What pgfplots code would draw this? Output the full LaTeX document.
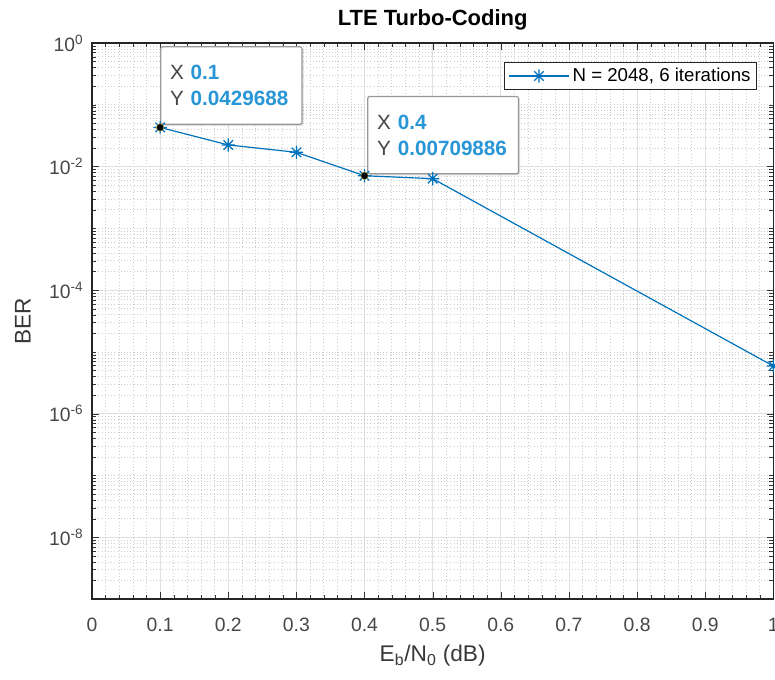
\documentclass[border=0pt]{standalone}
\usepackage{pgfplots}
\pgfplotsset{compat=1.18}
\usepackage{fontspec}
\setmainfont{Liberation Sans}
\usetikzlibrary{shadows}
\definecolor{mblue}{RGB}{0,114,189}
\definecolor{tipblue}{RGB}{40,150,215}
\definecolor{tipgray}{RGB}{70,70,70}
\pgfdeclareplotmark{mstar}{%
  \pgfpathmoveto{\pgfqpoint{-\pgfplotmarksize}{0pt}}\pgfpathlineto{\pgfqpoint{\pgfplotmarksize}{0pt}}%
  \pgfpathmoveto{\pgfqpoint{0pt}{-\pgfplotmarksize}}\pgfpathlineto{\pgfqpoint{0pt}{\pgfplotmarksize}}%
  \pgfpathmoveto{\pgfqpoint{-0.707\pgfplotmarksize}{-0.707\pgfplotmarksize}}\pgfpathlineto{\pgfqpoint{0.707\pgfplotmarksize}{0.707\pgfplotmarksize}}%
  \pgfpathmoveto{\pgfqpoint{-0.707\pgfplotmarksize}{0.707\pgfplotmarksize}}\pgfpathlineto{\pgfqpoint{0.707\pgfplotmarksize}{-0.707\pgfplotmarksize}}%
  \pgfusepathqstroke}
\begin{document}
\begin{tikzpicture}
\begin{axis}[
  at={(0,0)}, anchor=south west,
  scale only axis, width=511pt, height=417pt,
  ymode=log, xmin=0, xmax=1, ymin=1e-9, ymax=1,
  xtick={0,0.1,0.2,0.3,0.4,0.5,0.6,0.7,0.8,0.9,1},
  xticklabels={0,0.1,0.2,0.3,0.4,0.5,0.6,0.7,0.8,0.9,1},
  minor x tick num=4,
  ytick={1,1e-2,1e-4,1e-6,1e-8},
  yticklabels={10\textsuperscript{0},10\textsuperscript{-2},10\textsuperscript{-4},10\textsuperscript{-6},10\textsuperscript{-8}},
  minor ytick={2e-9,3e-9,4e-9,5e-9,6e-9,7e-9,8e-9,9e-9,
    2e-8,3e-8,4e-8,5e-8,6e-8,7e-8,8e-8,9e-8,1e-7,
    2e-7,3e-7,4e-7,5e-7,6e-7,7e-7,8e-7,9e-7,
    2e-6,3e-6,4e-6,5e-6,6e-6,7e-6,8e-6,9e-6,1e-5,
    2e-5,3e-5,4e-5,5e-5,6e-5,7e-5,8e-5,9e-5,
    2e-4,3e-4,4e-4,5e-4,6e-4,7e-4,8e-4,9e-4,1e-3,
    2e-3,3e-3,4e-3,5e-3,6e-3,7e-3,8e-3,9e-3,
    2e-2,3e-2,4e-2,5e-2,6e-2,7e-2,8e-2,9e-2,1e-1,
    2e-1,3e-1,4e-1,5e-1,6e-1,7e-1,8e-1,9e-1},
  grid=both,
  major grid style={gray!25, solid, line width=0.5pt},
  minor grid style={gray!40, dotted, line width=0.45pt},
  tick align=inside,
  major tick length=5pt, minor tick length=3pt,
  tick style={black!80},
  axis line style={black!85, line width=0.8pt},
  ticklabel style={font=\fontsize{14.5}{16}\selectfont, text=black!72},
  xticklabel style={yshift=-11pt},
  yticklabel style={xshift=-3pt},
  title={\bfseries LTE Turbo-Coding},
  title style={font=\fontsize{16.5}{18}\selectfont},
  xlabel={E\textsubscript{b}/N\textsubscript{0} (dB)},
  xlabel style={yshift=-3pt},
  ylabel={BER},
  ylabel shift=7pt,
  label style={font=\fontsize{17}{19}\selectfont, text=black!78},
  legend style={at={(rel axis cs:0.976,0.966)}, anchor=north east,
    font=\fontsize{14}{16}\selectfont, draw=black!85, line width=0.6pt,
    inner sep=2.5pt, legend cell align=left},
  legend image code/.code={\draw[mark repeat=2,mark phase=2] plot coordinates {(0cm,0cm) (0.8cm,0cm) (1.6cm,0cm)};},
]
\addplot[color=mblue, line width=0.9pt, mark=mstar, mark size=5pt,
  mark options={line width=0.9pt}]
  coordinates {(0.1,0.0429688) (0.2,0.0224) (0.3,0.0170) (0.4,0.00709886) (0.5,0.00637) (1.0,5.9e-6)};
\addlegendentry{N = 2048, 6 iterations}
\addplot[only marks, mark=*, mark size=2.8pt, black, mark options={draw=yellow!60!black, line width=0.4pt, fill=black}, forget plot]
  coordinates {(0.1,0.0429688) (0.4,0.00709886)};
\node[anchor=south west, draw=gray!80, line width=0.9pt, fill=white, rounded corners=1.5pt,
  drop shadow={opacity=0.25, shadow xshift=1.2pt, shadow yshift=-1.2pt},
  text width=92pt, minimum height=58pt, align=left, inner xsep=7pt,
  font=\fontsize{15.5}{19.5}\selectfont, text=tipgray]
  at (axis cs:0.1,0.0429688) [yshift=2pt]
  {X \textcolor{tipblue}{\bfseries 0.1}\\Y \textcolor{tipblue}{\bfseries 0.0429688}};
\node[anchor=south west, draw=gray!80, line width=0.9pt, fill=white, rounded corners=1.5pt,
  drop shadow={opacity=0.25, shadow xshift=1.2pt, shadow yshift=-1.2pt},
  text width=99pt, minimum height=58pt, align=left, inner xsep=7pt,
  font=\fontsize{15.5}{19.5}\selectfont, text=tipgray]
  at (axis cs:0.4,0.00709886) [xshift=2pt, yshift=1pt]
  {X \textcolor{tipblue}{\bfseries 0.4}\\Y \textcolor{tipblue}{\bfseries 0.00709886}};
\end{axis}
\pgfresetboundingbox
\path[use as bounding box] (-69pt,-60pt) rectangle (512.25pt,449.25pt);
\end{tikzpicture}
\end{document}
